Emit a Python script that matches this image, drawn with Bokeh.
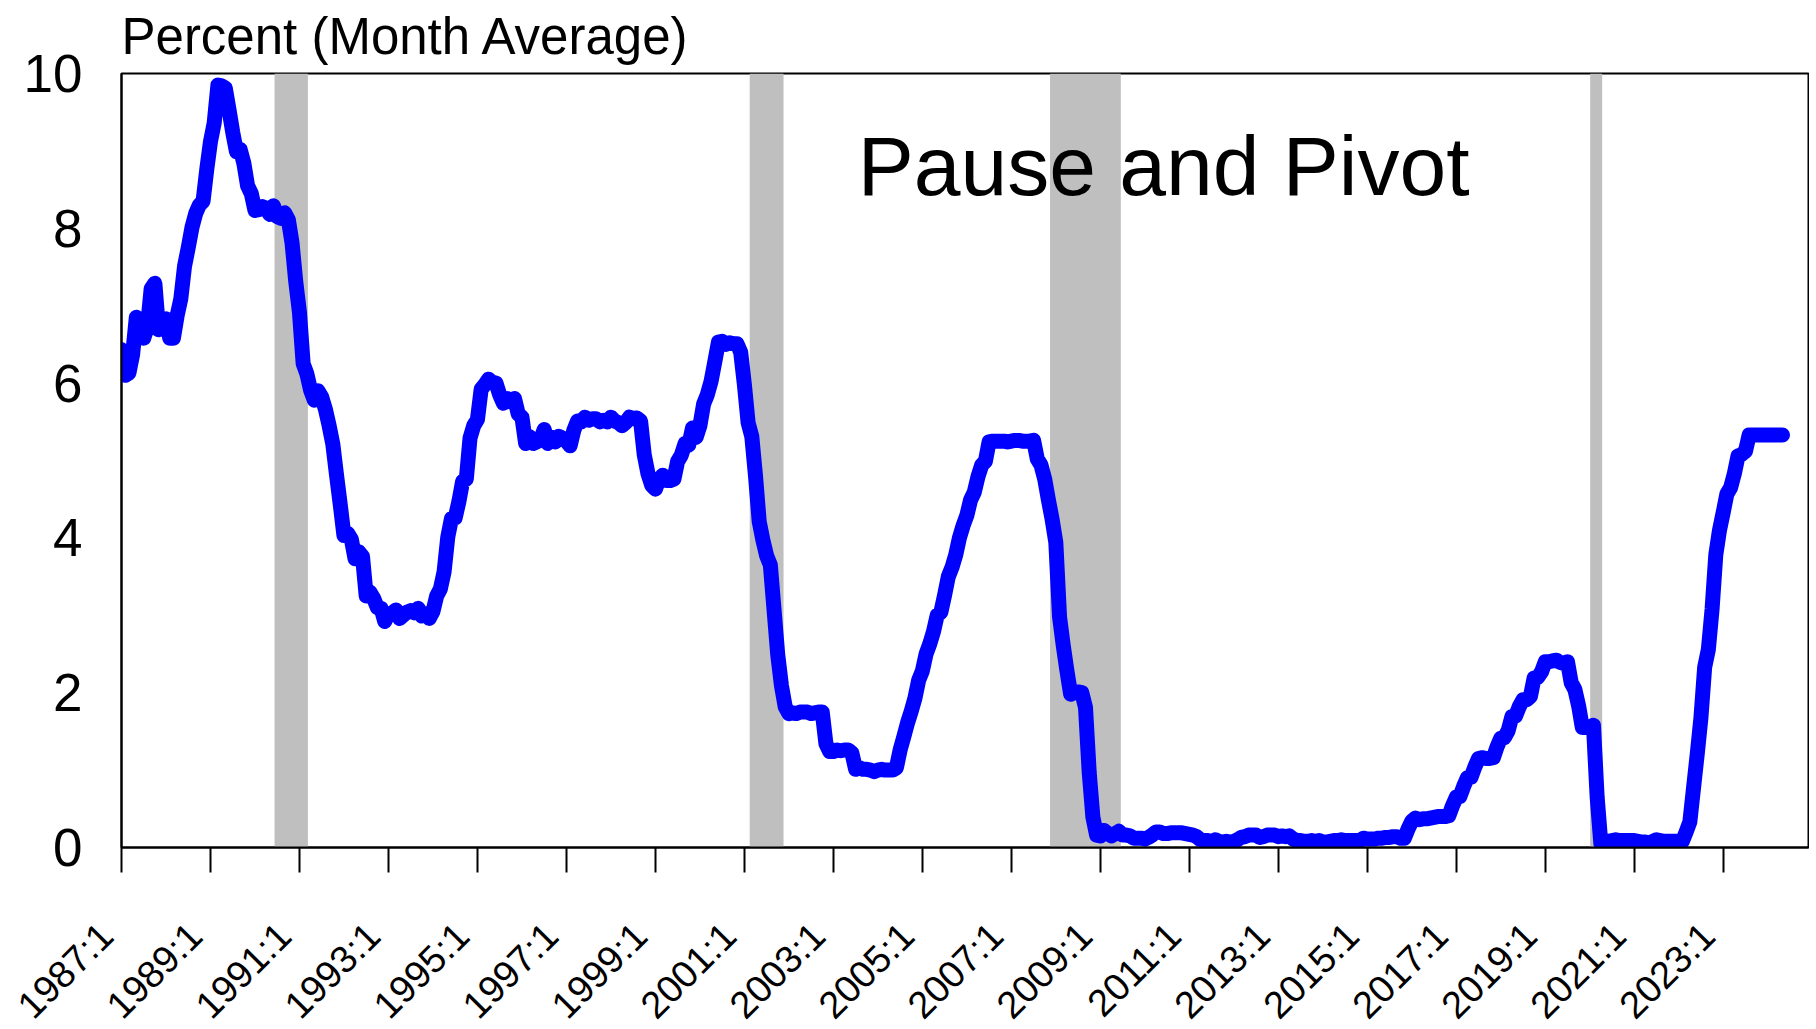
from math import pi
from bokeh.plotting import figure
from bokeh.models import Range1d, FixedTicker, Label, GlobalInlineStyleSheet
from bokeh.embed import file_html
from bokeh.resources import INLINE

# Monthly average federal funds rate, percent, starting 1987:1
rate_1987_1991 = [
    6.43, 6.10, 6.13, 6.37, 6.85, 6.73, 6.58, 6.73, 7.22, 7.29, 6.69, 6.77,
    6.83, 6.58, 6.58, 6.87, 7.09, 7.51, 7.75, 8.01, 8.19, 8.30, 8.35, 8.76,
    9.12, 9.36, 9.85, 9.84, 9.81, 9.53, 9.24, 8.99, 9.02, 8.84, 8.55, 8.45,
    8.23, 8.24, 8.28, 8.26, 8.18, 8.29, 8.15, 8.13, 8.20, 8.11, 7.81, 7.31,
    6.91, 6.25, 6.12, 5.91, 5.78, 5.90, 5.82, 5.66, 5.45, 5.21, 4.81, 4.43,
]
rate_1992_1996 = [
    4.03, 4.06, 3.98, 3.73, 3.82, 3.76, 3.25, 3.30, 3.22, 3.10, 3.09, 2.92,
    3.02, 3.03, 3.07, 2.96, 3.00, 3.04, 3.06, 3.03, 3.09, 2.99, 3.02, 2.96,
    3.05, 3.25, 3.34, 3.56, 4.01, 4.25, 4.26, 4.47, 4.73, 4.76, 5.29, 5.45,
    5.53, 5.92, 5.98, 6.05, 6.01, 6.00, 5.85, 5.74, 5.80, 5.76, 5.80, 5.60,
    5.56, 5.22, 5.31, 5.22, 5.24, 5.27, 5.40, 5.22, 5.30, 5.24, 5.31, 5.29,
]
rate_1997_2001 = [
    5.25, 5.19, 5.39, 5.51, 5.50, 5.56, 5.52, 5.54, 5.54, 5.50, 5.52, 5.50,
    5.56, 5.51, 5.49, 5.45, 5.49, 5.56, 5.54, 5.55, 5.51, 5.07, 4.83, 4.68,
    4.63, 4.76, 4.81, 4.74, 4.74, 4.76, 4.99, 5.07, 5.22, 5.20, 5.42, 5.30,
    5.45, 5.73, 5.85, 6.02, 6.27, 6.53, 6.54, 6.50, 6.52, 6.51, 6.51, 6.40,
    5.98, 5.49, 5.31, 4.80, 4.21, 3.97, 3.77, 3.65, 3.07, 2.49, 2.09, 1.82,
]
rate_2002_2006 = [
    1.73, 1.74, 1.73, 1.75, 1.75, 1.75, 1.73, 1.74, 1.75, 1.75, 1.34, 1.24,
    1.24, 1.26, 1.25, 1.26, 1.26, 1.22, 1.01, 1.03, 1.01, 1.01, 1.00, 0.98,
    1.00, 1.01, 1.00, 1.00, 1.00, 1.03, 1.26, 1.43, 1.61, 1.76, 1.93, 2.16,
    2.28, 2.50, 2.63, 2.79, 3.00, 3.04, 3.26, 3.50, 3.62, 3.78, 4.00, 4.16,
    4.29, 4.49, 4.59, 4.79, 4.94, 4.99, 5.24, 5.25, 5.25, 5.25, 5.25, 5.24,
]
rate_2007_2011 = [
    5.25, 5.26, 5.26, 5.25, 5.25, 5.25, 5.26, 5.02, 4.94, 4.76, 4.49, 4.24,
    3.94, 2.98, 2.61, 2.28, 1.98, 2.00, 2.01, 2.00, 1.81, 0.97, 0.39, 0.16,
    0.15, 0.22, 0.18, 0.15, 0.18, 0.21, 0.16, 0.16, 0.15, 0.12, 0.12, 0.12,
    0.11, 0.13, 0.16, 0.20, 0.20, 0.18, 0.18, 0.19, 0.19, 0.19, 0.19, 0.18,
    0.17, 0.16, 0.14, 0.10, 0.09, 0.09, 0.07, 0.10, 0.08, 0.07, 0.08, 0.07,
]
rate_2012_2016 = [
    0.08, 0.10, 0.13, 0.14, 0.16, 0.16, 0.16, 0.13, 0.14, 0.16, 0.16, 0.16,
    0.14, 0.15, 0.14, 0.15, 0.11, 0.09, 0.09, 0.08, 0.08, 0.09, 0.08, 0.09,
    0.07, 0.07, 0.08, 0.09, 0.09, 0.10, 0.09, 0.09, 0.09, 0.09, 0.09, 0.12,
    0.11, 0.11, 0.11, 0.12, 0.12, 0.13, 0.13, 0.14, 0.14, 0.12, 0.12, 0.24,
    0.34, 0.38, 0.36, 0.37, 0.37, 0.38, 0.39, 0.40, 0.40, 0.40, 0.41, 0.54,
]
rate_2017_2021 = [
    0.65, 0.66, 0.79, 0.90, 0.91, 1.04, 1.15, 1.16, 1.15, 1.15, 1.16, 1.30,
    1.41, 1.42, 1.51, 1.69, 1.70, 1.82, 1.91, 1.91, 1.95, 2.19, 2.20, 2.27,
    2.40, 2.40, 2.41, 2.42, 2.39, 2.38, 2.40, 2.13, 2.04, 1.83, 1.55, 1.55,
    1.55, 1.58, 0.65, 0.05, 0.05, 0.08, 0.09, 0.10, 0.09, 0.09, 0.09, 0.09,
    0.09, 0.08, 0.07, 0.07, 0.06, 0.08, 0.10, 0.09, 0.08, 0.08, 0.08, 0.08,
]
rate_2022_2024 = [
    0.08, 0.08, 0.20, 0.33, 0.77, 1.21, 1.68, 2.33, 2.56, 3.08, 3.78, 4.10,
    4.33, 4.57, 4.65, 4.83, 5.06, 5.08, 5.12, 5.33, 5.33, 5.33, 5.33, 5.33,
    5.33, 5.33, 5.33, 5.33, 5.33,
]
start_year = 1987

# Recession shading (decimal years)
rec_start = [1990.44, 2001.12, 2007.87, 2020.01]
rec_end = [1991.19, 2001.88, 2009.46, 2020.28]

# Axis ticks
x_tick_years = list(range(1987, 2024, 2))
x_tick_labels = [f"{y}:1" for y in x_tick_years]
y_ticks = [0, 2, 4, 6, 8, 10]

title_text = "Percent (Month Average)"
note_text = "Pause and Pivot"

rates = (rate_1987_1991 + rate_1992_1996 + rate_1997_2001 + rate_2002_2006 +
         rate_2007_2011 + rate_2012_2016 + rate_2017_2021 + rate_2022_2024)
xs = [start_year + i / 12.0 for i in range(len(rates))]

FONT = "Liberation Sans"
NBSP = "\u00a0"

p = figure(width=1809, height=1062, title=title_text,
           x_range=Range1d(1987.0, 2024.917), y_range=Range1d(0, 10),
           output_backend="svg", toolbar_location=None,
           min_border_left=121, min_border_right=1,
           min_border_top=73, min_border_bottom=215)
p.stylesheets = [GlobalInlineStyleSheet(css="html, body { overflow: hidden; }")]

p.title.text_font = FONT
p.title.text_font_size = "51px"
p.title.text_font_style = "normal"
p.title.text_color = "black"
p.title.align = "left"
p.title.vertical_align = "top"
p.title.offset = 0
p.title.standoff = 13

p.background_fill_color = "white"
p.border_fill_color = "white"
p.outline_line_color = "black"
p.outline_line_width = 2
p.outline_line_alpha = 1
p.xgrid.visible = False
p.ygrid.visible = False

p.quad(left=rec_start, right=rec_end, bottom=0, top=10,
       fill_color="#BFBFBF", line_color=None)

p.line(xs, rates, line_color="#0000FF", line_width=15,
       line_join="round", line_cap="round")

p.add_layout(Label(x=2003.55, y=8.80, text=note_text,
                   text_font=FONT, text_font_size="84px",
                   text_color="black", text_baseline="middle",
                   text_align="left"))

xa = p.xaxis[0]
xa.ticker = FixedTicker(ticks=x_tick_years)
# trailing no-break spaces pull each rotated label slightly left of its tick
xa.major_label_overrides = {y: l + NBSP * 2 for y, l in zip(x_tick_years, x_tick_labels)}
xa.major_label_orientation = pi / 4
xa.major_label_text_font = FONT
xa.major_label_text_font_size = "38px"
xa.major_label_text_color = "black"
xa.major_label_standoff = 42
xa.major_tick_out = 25
xa.major_tick_in = 0
xa.major_tick_line_width = 2
xa.major_tick_line_color = "black"
xa.minor_tick_line_color = None
xa.axis_line_width = 2
xa.axis_line_color = "black"

ya = p.yaxis[0]
ya.ticker = FixedTicker(ticks=y_ticks)
ya.major_label_text_font = FONT
ya.major_label_text_font_size = "53px"
ya.major_label_text_color = "black"
ya.major_label_standoff = 39
ya.major_tick_out = 0
ya.major_tick_in = 0
ya.minor_tick_line_color = None
ya.axis_line_width = 2
ya.axis_line_color = "black"

open("out.html", "w").write(file_html(p, INLINE))
